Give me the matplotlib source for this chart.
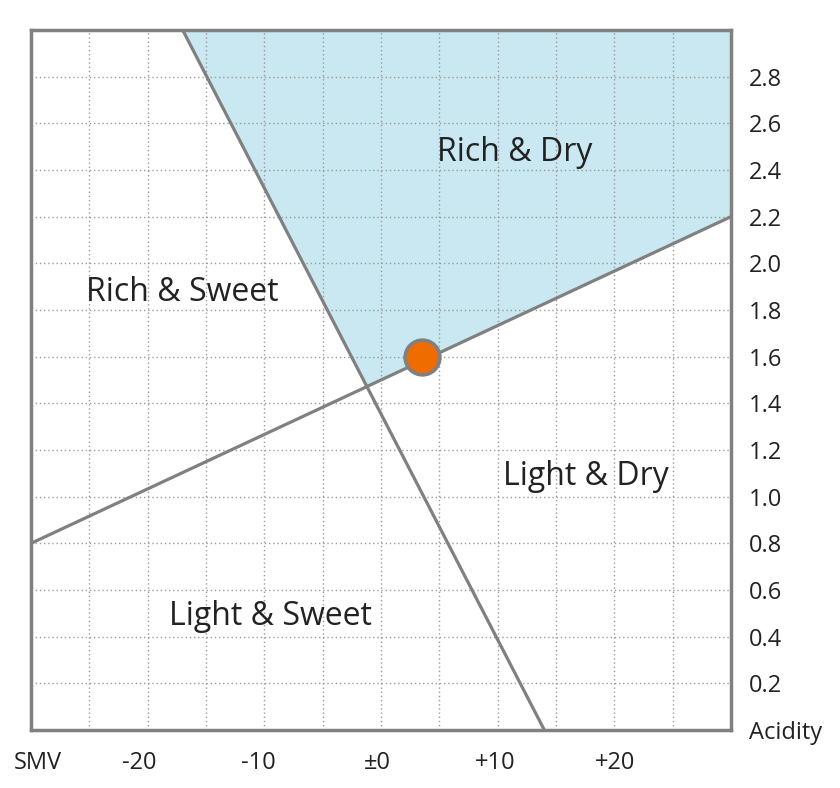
import matplotlib
matplotlib.use('Agg')
import matplotlib.pyplot as plt
import matplotlib.transforms as mtransforms
import numpy as np

plt.rcParams['font.family'] = ['Open Sans', 'DejaVu Sans']

# chart data
smv_ticks = [-30, -25, -20, -15, -10, -5, 0, 5, 10, 15, 20, 25, 30]
smv_labels = ['SMV', '', '-20', '', '-10', '', '±0', '', '+10', '', '+20', '', '']
acidity_ticks = [0.0, 0.2, 0.4, 0.6, 0.8, 1.0, 1.2, 1.4, 1.6, 1.8, 2.0, 2.2, 2.4, 2.6, 2.8, 3.0]
acidity_labels = ['Acidity', '0.2', '0.4', '0.6', '0.8', '1.0', '1.2', '1.4', '1.6',
                  '1.8', '2.0', '2.2', '2.4', '2.6', '2.8', '']

# boundary lines (SMV, acidity end points)
steep_smv = [-17, 14]
steep_acidity = [3.0, 0.0]
shallow_smv = [-30, 30]
shallow_acidity = [0.8, 2.2]

# the sake itself
sake_smv = [3.5]
sake_acidity = [1.6]

regions = ['Rich & Dry', 'Rich & Sweet', 'Light & Dry', 'Light & Sweet']
region_pos = [(11.5, 2.44), (-17.0, 1.84), (17.6, 1.05), (-9.5, 0.45)]

GREY = '#808080'

fig = plt.figure(figsize=(8.4, 7.88), dpi=100)
ax = fig.add_axes([31 / 840, 58 / 788, 700 / 840, 700 / 788])
ax.set_xlim(-30, 30)
ax.set_ylim(0, 3)

# shaded "Rich & Dry" area: above the shallow line, right of the steep one
xs = np.linspace(steep_smv[0], shallow_smv[1], 400)
steep_y = np.interp(xs, steep_smv, steep_acidity)
shallow_y = np.interp(xs, shallow_smv, shallow_acidity)
ax.fill_between(xs, np.maximum(steep_y, shallow_y), 3.0, color='#c9e8f1', lw=0, zorder=1)

ax.set_xticks(smv_ticks)
ax.set_xticklabels(smv_labels)
ax.set_yticks(acidity_ticks)
ax.set_yticklabels(acidity_labels)
ax.yaxis.tick_right()
ax.tick_params(length=0, labelsize=17, colors='#222222')
ax.tick_params(axis='x', pad=15)
ax.tick_params(axis='y', pad=13)
ax.grid(True, color='#9a9a9a', linestyle=(0, (1, 2)), linewidth=1, zorder=2)
ax.set_axisbelow(False)

# small horizontal nudges of the x labels (pixels)
nudges = {'SMV': 7, '-20': -8, '-10': -6, '±0': -4, '+10': -2, '+20': 1}
for lbl in ax.get_xticklabels():
    dx = nudges.get(lbl.get_text(), 0)
    if dx:
        off = mtransforms.ScaledTranslation(dx / 100, 0, fig.dpi_scale_trans)
        lbl.set_transform(lbl.get_transform() + off)

ax.plot(steep_smv, steep_acidity, color=GREY, lw=2.3, zorder=3)
ax.plot(shallow_smv, shallow_acidity, color=GREY, lw=2.3, zorder=3)

ax.plot(sake_smv, sake_acidity, 'o', ms=25, color='#ee6c00', mec=GREY, mew=2.6, zorder=5)

for name, (x, y) in zip(regions, region_pos):
    ax.text(x, y, name, ha='center', va='baseline', fontsize=23, color='#222222', zorder=4)

for spine in ax.spines.values():
    spine.set_color(GREY)
    spine.set_linewidth(2.5)
    spine.set_zorder(6)

fig.savefig('out.png', dpi=100)
